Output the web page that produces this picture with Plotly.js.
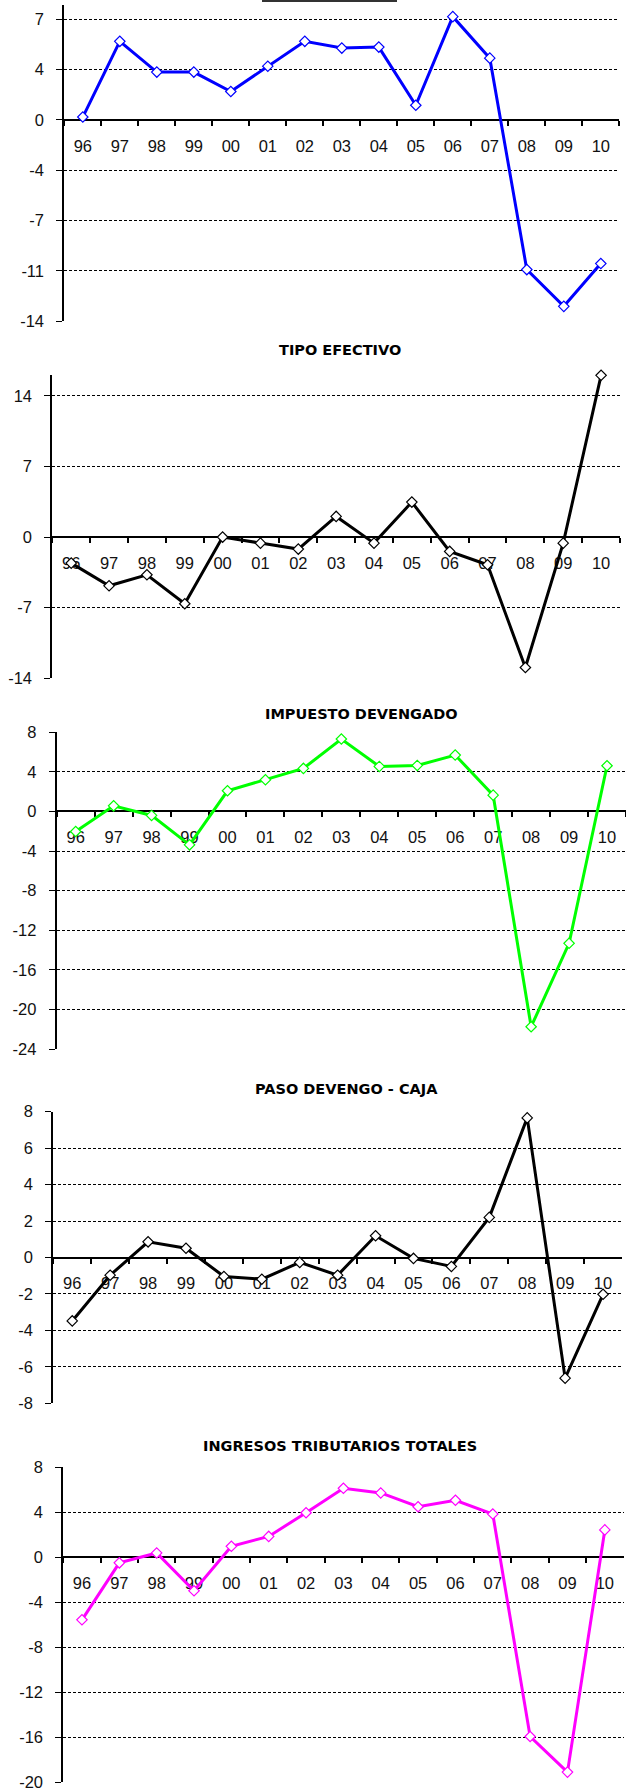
<!DOCTYPE html>
<html>
<head>
<meta charset="utf-8">
<script src="https://cdn.plot.ly/plotly-3.0.1.min.js"></script>
<style>
html,body{margin:0;padding:0;background:#fff;}
#chart{width:626px;height:1792px;}
</style>
</head>
<body>
<div id="chart"></div>
<script>
// ---- data ----
const years = ['96','97','98','99','00','01','02','03','04','05','06','07','08','09','10'];

const panel1Values      = [0.2, 5.47, 3.33, 3.33, 1.98, 3.74, 5.47, 5.0, 5.07, 1.02, 7.19, 4.30, -10.42, -12.98, -10.0];
const tipoEfectivo      = [-2.58, -4.83, -3.74, -6.61, 0.0, -0.6, -1.19, 2.05, -0.6, 3.47, -1.42, -2.74, -12.93, -0.6, 16.04];
const impuestoDevengado = [-2.02, 0.57, -0.40, -3.37, 2.09, 3.20, 4.35, 7.32, 4.55, 4.65, 5.70, 1.65, -21.75, -13.32, 4.62];
const pasoDevengoCaja   = [-3.48, -0.97, 0.86, 0.51, -1.04, -1.19, -0.27, -0.97, 1.19, -0.05, -0.49, 2.20, 7.66, -6.62, -2.02];
const ingresosTotales   = [-5.57, -0.50, 0.38, -2.99, 0.97, 1.85, 3.96, 6.13, 5.72, 4.49, 5.07, 3.84, -15.95, -19.12, 2.43];

const panelTitles = ['', 'TIPO EFECTIVO', 'IMPUESTO DEVENGADO', 'PASO DEVENGO - CAJA', 'INGRESOS TRIBUTARIOS TOTALES'];

// y tick values / labels per panel
const panel1TickVals = [7, 3.5, 0, -3.5, -7, -10.5, -14];
const panel1TickText = ['7', '4', '0', '-4', '-7', '-11', '-14'];
const panel2TickVals = [14, 7, 0, -7, -14];
const panel3TickVals = [8, 4, 0, -4, -8, -12, -16, -20, -24];
const panel4TickVals = [8, 6, 4, 2, 0, -2, -4, -6, -8];
const panel5TickVals = [8, 4, 0, -4, -8, -12, -16, -20];

// ---- layout geometry (pixels) ----
const W = 626, H = 1792;
const panels = [
  {values: panel1Values,      color: '#0000FF', x0: 64.3, x1: 619.3, top: 5,      bottom: 321,    range: [-14, 8],    tickvals: panel1TickVals, ticktext: panel1TickText, tcx: 0,   tcy: 0},
  {values: tipoEfectivo,      color: '#000000', x0: 52.3, x1: 620,   top: 374.7,  bottom: 678.3,  range: [-14, 16.1], tickvals: panel2TickVals, tcx: 340, tcy: 350.5},
  {values: impuestoDevengado, color: '#00FF00', x0: 56.7, x1: 626,   top: 732.3,  bottom: 1049,   range: [-24, 8],    tickvals: panel3TickVals, tcx: 361, tcy: 714},
  {values: pasoDevengoCaja,   color: '#000000', x0: 53.3, x1: 622,   top: 1111.7, bottom: 1403.3, range: [-8, 8],     tickvals: panel4TickVals, tcx: 346, tcy: 1089.3},
  {values: ingresosTotales,   color: '#FF00FF', x0: 63.3, x1: 623.5, top: 1467.3, bottom: 1782,   range: [-20, 8],    tickvals: panel5TickVals, tcx: 340, tcy: 1446}
];

const tickFont = {family: 'Liberation Sans, Arial, sans-serif', size: 16.5, color: '#111'};
const traces = [];
const layout = {
  width: W, height: H,
  margin: {l: 0, r: 0, t: 0, b: 0, pad: 0},
  paper_bgcolor: '#fff', plot_bgcolor: 'rgba(0,0,0,0)',
  showlegend: false,
  annotations: [],
  shapes: [
    {type: 'line', xref: 'paper', yref: 'paper', x0: 262 / W, x1: 397 / W, y0: 1 - 1 / H, y1: 1 - 1 / H,
     line: {color: '#333', width: 2}}
  ]
};

panels.forEach((p, k) => {
  const i = k + 1;
  const xa = i === 1 ? 'xaxis' : 'xaxis' + i;
  const ya = i === 1 ? 'yaxis' : 'yaxis' + i;
  const xid = i === 1 ? 'x' : 'x' + i;
  const yid = i === 1 ? 'y' : 'y' + i;
  const yZeroPx = p.top + (p.range[1] / (p.range[1] - p.range[0])) * (p.bottom - p.top);

  traces.push({
    x: years, y: p.values, xaxis: xid, yaxis: yid,
    type: 'scatter', mode: 'lines+markers', cliponaxis: false,
    line: {color: p.color, width: 3},
    marker: {symbol: 'diamond', size: 8, color: '#ffffff', line: {color: p.color, width: 1.2}},
    hoverinfo: 'skip'
  });

  layout[xa] = {
    domain: [p.x0 / W, p.x1 / W],
    anchor: 'free', position: 1 - yZeroPx / H,
    type: 'category', range: [-0.5, years.length - 0.5],
    showline: true, linecolor: '#000', linewidth: 2,
    ticks: 'outside', tickson: 'boundaries', ticklen: 5, tickwidth: 2, tickcolor: '#000',
    showgrid: false, zeroline: false, layer: 'below traces',
    tickfont: tickFont, ticklabelstandoff: 11, ticklabeloverflow: 'allow',
    fixedrange: true
  };

  layout[ya] = {
    domain: [1 - p.bottom / H, 1 - p.top / H],
    anchor: xid, range: p.range,
    showline: true, linecolor: '#000', linewidth: 2,
    ticks: 'outside', ticklen: 6, tickwidth: 1, tickcolor: '#000',
    showgrid: true, gridcolor: '#000', gridwidth: 1, griddash: '3px,2px',
    zeroline: false, layer: 'below traces',
    tickmode: 'array', tickvals: p.tickvals,
    ticktext: p.ticktext || p.tickvals.map(String),
    tickfont: tickFont, ticklabelstandoff: 9, ticklabeloverflow: 'allow',
    fixedrange: true
  };

  if (panelTitles[k]) {
    layout.annotations.push({
      text: '<b>' + panelTitles[k] + '</b>',
      xref: 'paper', yref: 'paper', x: p.tcx / W, y: 1 - p.tcy / H,
      xanchor: 'center', yanchor: 'middle', showarrow: false,
      font: {family: 'DejaVu Sans, Verdana, sans-serif', size: 14.5, color: '#000'}
    });
  }
});

Plotly.newPlot('chart', traces, layout, {staticPlot: true, displayModeBar: false});
</script>
</body>
</html>
